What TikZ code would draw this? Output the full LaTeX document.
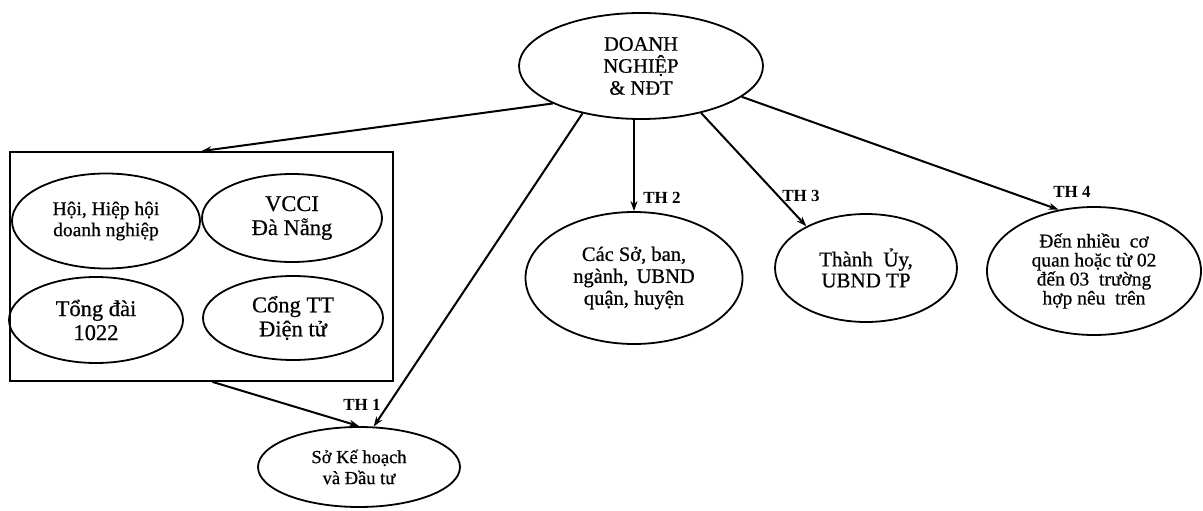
\documentclass[tikz,border=0pt]{standalone}
\usepackage{fontspec}
\setmainfont{Liberation Serif}
\newfontfamily\heavy[FakeBold=0.6]{Liberation Serif}
\usetikzlibrary{shapes.geometric,arrows.meta,calc}
\begin{document}
\begin{tikzpicture}[x=1pt,y=-1pt,
  ell/.style={draw,ellipse,line width=1.8pt,inner sep=0pt,align=center},
  arr/.style={line width=2pt,-{Stealth[length=10pt,width=7pt]}},
  lab/.style={font=\fontsize{17}{19}\selectfont\bfseries,inner sep=1pt}]
\useasboundingbox (0,0) rectangle (1203,511);
\node[ell,minimum width=244,minimum height=106,font=\fontsize{20.5}{22}\selectfont\heavy] (top) at (641,66) {DOANH\\NGHIỆP\\\& NĐT};
\node[draw,line width=1.8pt,minimum width=383,minimum height=229,inner sep=0pt] (box) at (201.5,266.5) {};
\node[ell,minimum width=188,minimum height=95,font=\fontsize{19.5}{21}\selectfont\heavy] (hoi) at (106,221) {Hội, Hiệp hội\\doanh nghiệp};
\node[ell,minimum width=180,minimum height=88,font=\fontsize{22.5}{24}\selectfont\heavy] (vcci) at (292,218) {VCCI\\Đà Nẵng};
\node[ell,minimum width=174,minimum height=86,font=\fontsize{22.5}{24}\selectfont\heavy] (tong) at (96,320) {Tổng đài\\1022};
\node[ell,minimum width=180,minimum height=84,font=\fontsize{22.5}{24}\selectfont\heavy] (cong) at (293,318) {Cổng TT\\Điện tử};
\node[ell,minimum width=217,minimum height=132,font=\fontsize{20.5}{22}\selectfont\heavy] (tw) at (634,278) {Các Sở, ban,\\ngành,\hspace{0.4em}UBND\\quận, huyện};
\node[ell,minimum width=182,minimum height=108,font=\fontsize{21}{21}\selectfont\heavy] (th) at (866,268) {Thành\ \ Ủy,\\UBND TP};
\node[ell,minimum width=214,minimum height=128,font=\fontsize{19.5}{19}\selectfont\heavy] (nhieu) at (1094,271) {Đến nhiều\ \ cơ\\quan hoặc từ 02\\đến 03\ \ trường\\hợp nêu\ \ trên};
\node[ell,minimum width=202,minimum height=80,font=\fontsize{18.5}{21}\selectfont\heavy] (sk) at (359,467) {Sở Kế hoạch\\và Đầu tư};
\node[lab] (l1) at (362,405) {TH 1};
\node[lab] (l2) at (662,198) {TH 2};
\node[lab] (l3) at (801,196) {TH 3};
\node[lab] (l4) at (1072,192) {TH 4};
\draw[arr] (top.203) -- (box.north);
\draw[arr] (top.219) -- (sk.70);
\draw[arr] ($(box.south)+(11,0)$) -- (sk.north);
\draw[arr] (top.south -| tw.north) -- (tw.north);
\draw[arr] (top.322) -- (th.145);
\draw[arr] (top.343) -- (nhieu.120);
\end{tikzpicture}
\end{document}
